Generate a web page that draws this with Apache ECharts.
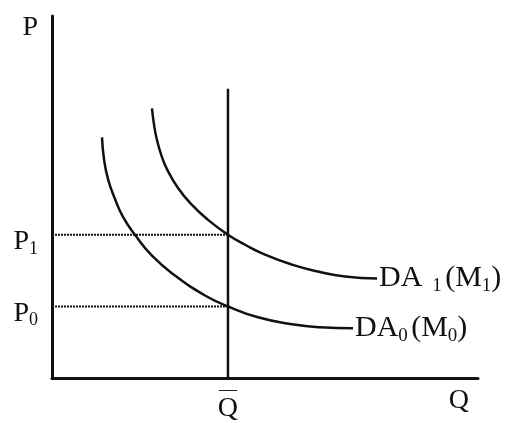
<!DOCTYPE html>
<html>
<head>
<meta charset="utf-8">
<script src="https://cdn.jsdelivr.net/npm/echarts@6/dist/echarts.min.js"></script>
<style>
  html, body { margin: 0; padding: 0; background: #ffffff; }
  #chart { width: 512px; height: 423px; }
</style>
</head>
<body>
<div id="chart"></div>
<script>
// ---- data ----
const priceLevels = [19.78, 39.56];        // P0, P1
const priceSubs = ['0', '1'];
const pAxisNamePos = 98.6;                 // where the "P" axis name sits
const qBar = 41.31;                        // Q-bar (fixed output)
const qBarTop = 79.9;                      // top of the vertical Q-bar line
const qAxisNamePos = 95.5;                 // where the "Q" axis name sits
const da0 = [[11.74, 66.48], [12.21, 60.44], [13.15, 54.95], [14.79, 49.45], [16.67, 44.51],
             [19.48, 39.56], [23.47, 33.79], [28.87, 28.30], [35.92, 22.80], [41.31, 19.78],
             [48.36, 16.76], [56.34, 14.84], [62.91, 14.01], [70.66, 13.74]];
const da1 = [[23.47, 74.45], [23.94, 70.05], [24.65, 65.66], [25.82, 60.99], [26.99, 57.69],
             [29.58, 52.47], [32.86, 47.80], [36.62, 43.68], [41.31, 39.56], [45.31, 36.81],
             [50.00, 34.07], [56.34, 31.32], [62.44, 29.40], [68.78, 28.02], [76.29, 27.47]];
const curveNames = ['DA0 (M0)', 'DA 1 (M1)'];

const FONT = 'Liberation Serif';
const INK = '#111111';
const rich = {
  m: { fontFamily: FONT, fontSize: 28, color: INK, lineHeight: 32 },
  s: { fontFamily: FONT, fontSize: 18, color: INK, lineHeight: 32, verticalAlign: 'bottom' },
  bar: { fontFamily: FONT, fontSize: 18, color: INK, lineHeight: 8, align: 'center' },
  q: { fontFamily: FONT, fontSize: 28, color: INK, lineHeight: 30, align: 'center' }
};
const richDA = {
  m: { fontFamily: FONT, fontSize: 30, color: INK, lineHeight: 34 },
  s: { fontFamily: FONT, fontSize: 19, color: INK, lineHeight: 34, verticalAlign: 'bottom' },
  sg: { fontFamily: FONT, fontSize: 19, color: INK, lineHeight: 34, verticalAlign: 'bottom', padding: [0, 0, 0, 10] }
};

function near(a, b) { return Math.abs(a - b) < 0.01; }

const chart = echarts.init(document.getElementById('chart'), null, { renderer: 'canvas' });
chart.setOption({
  animation: false,
  backgroundColor: '#ffffff',
  grid: { left: 52, right: 34, top: 16, bottom: 43 },
  xAxis: {
    type: 'value', min: 0, max: 100,
    axisLine: { show: true, onZero: false, lineStyle: { color: INK, width: 3 } },
    axisTick: { show: false },
    splitLine: { show: false },
    axisLabel: {
      show: true, margin: 8, customValues: [qBar, qAxisNamePos],
      formatter: function (v) {
        if (near(v, qBar)) return '{bar|—}\n{q|Q}';
        return '{q|Q}';
      },
      rich: rich
    }
  },
  yAxis: {
    type: 'value', min: 0, max: 100,
    axisLine: { show: true, onZero: false, lineStyle: { color: INK, width: 3 } },
    axisTick: { show: false },
    splitLine: { show: false },
    axisLabel: {
      show: true, margin: 14, align: 'right', padding: [14, 0, 0, 0],
      customValues: priceLevels.concat([pAxisNamePos]),
      formatter: function (v) {
        for (let i = 0; i < priceLevels.length; i++) {
          if (near(v, priceLevels[i])) return '{m|P}{s|' + priceSubs[i] + '}';
        }
        return '{m|P}';
      },
      rich: rich
    }
  },
  series: [
    {
      name: 'P1 guide', type: 'line', silent: true, symbol: 'none',
      data: [[0, priceLevels[1]], [qBar, priceLevels[1]]],
      lineStyle: { color: INK, width: 2, type: [2, 1] }
    },
    {
      name: 'P0 guide', type: 'line', silent: true, symbol: 'none',
      data: [[0, priceLevels[0]], [qBar, priceLevels[0]]],
      lineStyle: { color: INK, width: 2, type: [2, 1] }
    },
    {
      name: 'Q bar', type: 'line', silent: true, symbol: 'none',
      data: [[qBar, 0], [qBar, qBarTop]],
      lineStyle: { color: INK, width: 2.5 }
    },
    {
      name: curveNames[0], type: 'line', silent: true, symbol: 'none', smooth: 0.5,
      data: da0,
      lineStyle: { color: INK, width: 2.5 },
      endLabel: {
        show: true, distance: 2,
        formatter: '{m|DA}{s|0} {m|(M}{s|0}{m|)}',
        rich: richDA
      }
    },
    {
      name: curveNames[1], type: 'line', silent: true, symbol: 'none', smooth: 0.5,
      data: da1,
      lineStyle: { color: INK, width: 2.5 },
      endLabel: {
        show: true, distance: 2,
        formatter: '{m|DA}{sg|1} {m|(M}{s|1}{m|)}',
        rich: richDA
      }
    }
  ]
});
</script>
</body>
</html>
